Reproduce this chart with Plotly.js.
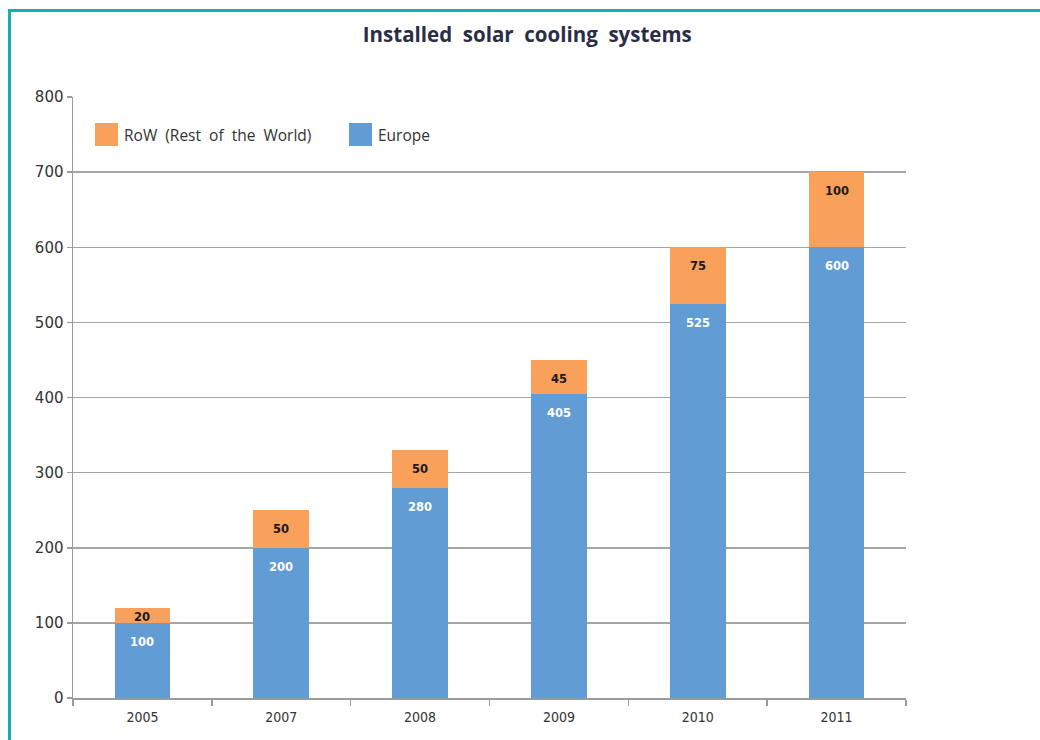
<!DOCTYPE html>
<html>
<head>
<meta charset="utf-8">
<script src="https://cdn.plot.ly/plotly-3.0.1.min.js"></script>
<style>
  html, body { margin: 0; padding: 0; background: #ffffff; }
  #wrap { position: relative; width: 1040px; height: 740px; overflow: hidden; }
  #chart { width: 1040px; height: 740px; }
  #frame {
    position: absolute; left: 8px; top: 9px; width: 1100px; height: 800px;
    border-left: 3px solid #1aafaf; border-top: 3px solid #1aafaf;
    pointer-events: none;
  }
</style>
</head>
<body>
<div id="wrap">
  <div id="chart"></div>
  <div id="frame"></div>
</div>
<script>
// Installed solar cooling systems by year, stacked by region
const years = ['2005', '2007', '2008', '2009', '2010', '2011'];
const europe = [100, 200, 280, 405, 525, 600];
const restOfWorld = [20, 50, 50, 45, 75, 100];
const seriesNames = ['RoW  (Rest  of  the  World)', 'Europe'];
const yTicks = [0, 100, 200, 300, 400, 500, 600, 700, 800];

const BLUE = '#619cd4';
const ORANGE = '#f9a05a';

// plot geometry (pixels)
const W = 1040, H = 740;
const M = { l: 73, r: 134, t: 97, b: 42 };
const plotW = W - M.l - M.r;
const plotH = H - M.t - M.b;
const yMax = 800;
const pxPerUnit = plotH / yMax;
const px2x = px => (px - M.l) / plotW;
const px2y = py => (H - M.b - py) / plotH;

const traces = [
  {
    type: 'bar', name: seriesNames[1], x: years, y: europe,
    marker: { color: BLUE }, width: 0.4, hoverinfo: 'x+y+name', showlegend: false
  },
  {
    type: 'bar', name: seriesNames[0], x: years, y: restOfWorld,
    marker: { color: ORANGE }, width: 0.4, hoverinfo: 'x+y+name', showlegend: false
  }
];

// value labels near the top of each segment (x given as category index)
const annotations = [];
function segLabel(idx, top, value, color) {
  const segPx = value * pxPerUnit;
  const shift = -Math.min(19, segPx / 2 + 2);
  annotations.push({
    x: idx, y: top, xref: 'x', yref: 'y', yshift: shift,
    text: String(value), showarrow: false,
    font: { family: 'DejaVu Sans', size: 11.5, color: color, weight: 'bold' },
    xanchor: 'center', yanchor: 'middle'
  });
}
years.forEach((yr, i) => {
  segLabel(i, europe[i], europe[i], '#ffffff');
  segLabel(i, europe[i] + restOfWorld[i], restOfWorld[i], '#1a1a1a');
});

// legend drawn as swatches + text
const legendItems = [
  { name: seriesNames[0], color: ORANGE, x0: 95 },
  { name: seriesNames[1], color: BLUE, x0: 349 }
];
const shapes = [];
legendItems.forEach(it => {
  shapes.push({
    type: 'rect', xref: 'paper', yref: 'paper',
    x0: px2x(it.x0), x1: px2x(it.x0 + 23), y0: px2y(146), y1: px2y(123),
    fillcolor: it.color, line: { width: 0 }
  });
  annotations.push({
    xref: 'paper', yref: 'paper', x: px2x(it.x0 + 27), y: px2y(135),
    text: it.name, showarrow: false, xanchor: 'left', yanchor: 'middle',
    font: { family: 'Open Sans', size: 15.5, color: '#333333' }
  });
});

const layout = {
  width: W, height: H,
  margin: M,
  paper_bgcolor: '#ffffff', plot_bgcolor: '#ffffff',
  barmode: 'stack',
  showlegend: false,
  title: {
    text: '<b>Installed  solar  cooling  systems</b>',
    x: 0.507, xanchor: 'center', y: 1 - 35 / H, yanchor: 'middle',
    font: { family: 'Open Sans', size: 20.5, color: '#2a2d45' }
  },
  xaxis: {
    type: 'category', range: [-0.5, years.length - 0.5],
    tickson: 'boundaries', ticks: 'outside', ticklen: 6,
    tickcolor: '#9a9a9a', tickwidth: 1.5, ticklabelstandoff: 6,
    showline: true, linecolor: '#9a9a9a', linewidth: 1.5,
    showgrid: false, zeroline: false,
    tickfont: { family: 'DejaVu Sans Condensed', size: 14, color: '#333333' }
  },
  yaxis: {
    range: [0, yMax], tickvals: yTicks, ticktext: yTicks.map(String),
    ticks: 'outside', ticklen: 5, tickcolor: '#9a9a9a', tickwidth: 1.5,
    showline: true, linecolor: '#9a9a9a', linewidth: 1.5,
    showgrid: true, gridcolor: '#a6a6a6', gridwidth: 1.5, zeroline: false,
    tickfont: { family: 'DejaVu Sans', size: 15, color: '#333333' }
  },
  annotations: annotations,
  shapes: shapes
};

Plotly.newPlot('chart', traces, layout, { displayModeBar: false, staticPlot: true });
</script>
</body>
</html>
